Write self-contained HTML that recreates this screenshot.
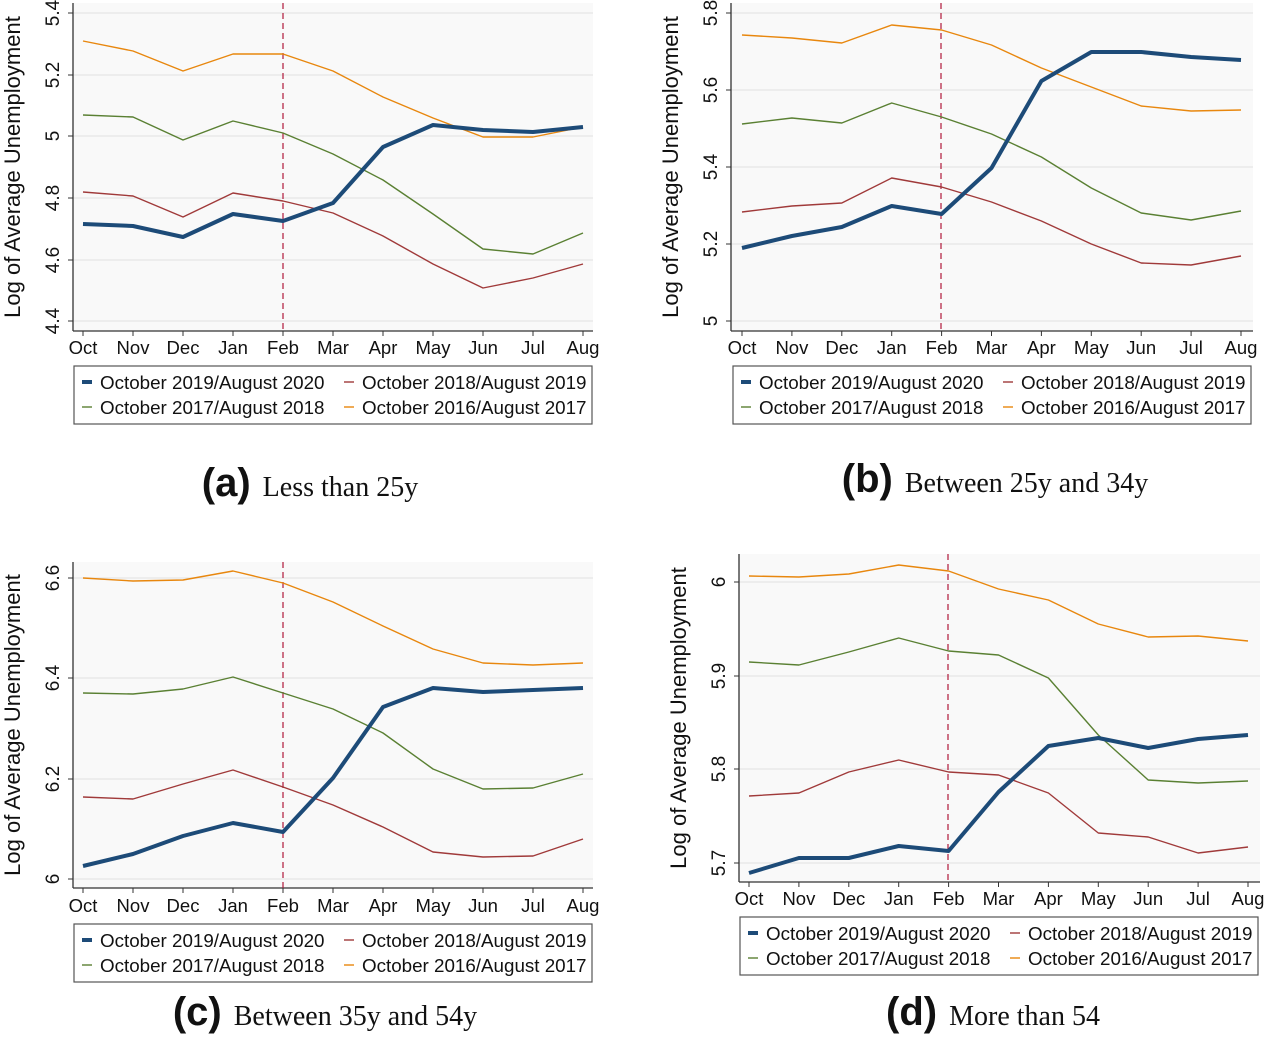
<!DOCTYPE html>
<html><head><meta charset="utf-8"><style>
body{margin:0;background:#fff}
svg text{font-family:"Liberation Sans",sans-serif;fill:#111}
</style></head><body>
<svg id="s" width="1265" height="1043" xmlns="http://www.w3.org/2000/svg"></svg>
<script>
const S=document.getElementById('s');let h='';
const C={o:'#e8870e',g:'#5a8033',r:'#a03a3a',b:'#1d4b78'};
const panels=[
{ax:73,top:3,bot:331,right:593,x0:83,dx:50,feb:283,ticks:[[5.4,13],[5.2,75],[5,136],[4.8,198],[4.6,260],[4.4,321]],
 labY:12,mY:348,leg:[74,366],cap:[310,486,'(a)','Less than 25y'],
 d:{o:[41,51,71,54,54,71,97,118,137,137,127],g:[115,117,140,121,133,154,180,214,249,254,233],r:[192,196,217,193,201,213,236,264,288,278,264],b:[224,226,237,214,221,203,147,125,130,132,127]}},
{ax:731,top:3,bot:331,right:1253,x0:742,dx:49.9,feb:941,ticks:[[5.8,13],[5.6,90],[5.4,167],[5.2,244],[5,321]],
 labY:670,mY:348,leg:[733,366],cap:[995,482,'(b)','Between 25y and 34y'],
 d:{o:[35,38,43,25,30,45,68,87,106,111,110],g:[124,118,123,103,117,134,157,188,213,220,211],r:[212,206,203,178,187,202,221,244,263,265,256],b:[248,236,227,206,214,168,81,52,52,57,60]}},
{ax:73,top:562,bot:888,right:593,x0:83,dx:50,feb:283,ticks:[[6.6,578],[6.4,678],[6.2,779],[6,879]],
 labY:12,mY:906,leg:[74,924],cap:[325,1015,'(c)','Between 35y and 54y'],
 d:{o:[578,581,580,571,583,602,626,649,663,665,663],g:[693,694,689,677,693,709,733,769,789,788,774],r:[797,799,784,770,787,805,827,852,857,856,839],b:[866,854,836,823,832,778,707,688,692,690,688]}},
{ax:739,top:554,bot:882,right:1260,x0:749,dx:49.9,feb:948,ticks:[[6,582],[5.9,676],[5.8,769],[5.7,863]],
 labY:678,mY:899,leg:[740,917],cap:[993,1015,'(d)','More than 54'],
 d:{o:[576,577,574,565,571,589,600,624,637,636,641],g:[662,665,652,638,651,655,678,735,780,783,781],r:[796,793,772,760,772,775,793,833,837,853,847],b:[873,858,858,846,851,792,746,738,748,739,735]}}
];
const M=['Oct','Nov','Dec','Jan','Feb','Mar','Apr','May','Jun','Jul','Aug'];
for(const p of panels){
 h+=`<rect x="${p.ax}" y="${p.top}" width="${p.right-p.ax}" height="${p.bot-p.top}" fill="#f9f9f9"/>`;
 for(const [v,y] of p.ticks){
  h+=`<line x1="${p.ax}" x2="${p.right}" y1="${y}" y2="${y}" stroke="#e6e6e6" stroke-width="1.3"/>`;
  h+=`<line x1="${p.ax-5}" x2="${p.ax}" y1="${y}" y2="${y}" stroke="#333"/>`;
  h+=`<text transform="translate(${p.ax-14},${y}) rotate(-90)" text-anchor="middle" font-size="19">${v}</text>`;
 }
 h+=`<line x1="${p.ax}" x2="${p.ax}" y1="${p.top}" y2="${p.bot}" stroke="#333" stroke-width="1.3"/>`;
 h+=`<line x1="${p.ax}" x2="${p.right}" y1="${p.bot}" y2="${p.bot}" stroke="#333" stroke-width="1.3"/>`;
 M.forEach((m,i)=>{const x=p.x0+i*p.dx;
  h+=`<line x1="${x}" x2="${x}" y1="${p.bot}" y2="${p.bot+5}" stroke="#333"/>`;
  h+=`<text x="${x}" y="${p.mY+6}" text-anchor="middle" font-size="18.5">${m}</text>`;});
 h+=`<line x1="${p.feb}" x2="${p.feb}" y1="${p.top}" y2="${p.bot}" stroke="#b0183a" stroke-width="1.2" stroke-dasharray="6,4"/>`;
 const mid=(p.top+p.bot)/2;
 h+=`<text transform="translate(${p.labY+8},${mid}) rotate(-90)" text-anchor="middle" font-size="22">Log of Average Unemployment</text>`;
 for(const k of ['o','g','r','b']){
  const pts=p.d[k].map((y,i)=>(p.x0+i*p.dx)+','+y).join(' ');
  h+=`<polyline points="${pts}" fill="none" stroke="${C[k]}" stroke-width="${k=='b'?4:1.4}" stroke-linejoin="round"/>`;
 }
 const [lx,ly]=p.leg;
 h+=`<rect x="${lx}" y="${ly}" width="518" height="58" fill="#fff" stroke="#555" stroke-width="1.2"/>`;
 const items=[['b','October 2019/August 2020',0,0],['r','October 2018/August 2019',1,0],['g','October 2017/August 2018',0,1],['o','October 2016/August 2017',1,1]];
 for(const [k,t,c,r] of items){
  const x=lx+8+c*262,y=ly+16+r*25;
  h+=`<line x1="${x}" x2="${x+10}" y1="${y}" y2="${y}" stroke="${C[k]}" stroke-width="${k=='b'?4:1.4}"/>`;
  h+=`<text x="${x+18}" y="${y+7}" font-size="18.8">${t}</text>`;
 }
 const [cx,cy,a,t]=p.cap;
 h+=`<text x="${cx}" y="${cy+10}" text-anchor="middle"><tspan font-size="40" font-weight="bold">${a}</tspan><tspan font-size="28" font-family="Liberation Serif,serif" dx="12">${t}</tspan></text>`;
}
S.innerHTML=h;
</script>
</body></html>
